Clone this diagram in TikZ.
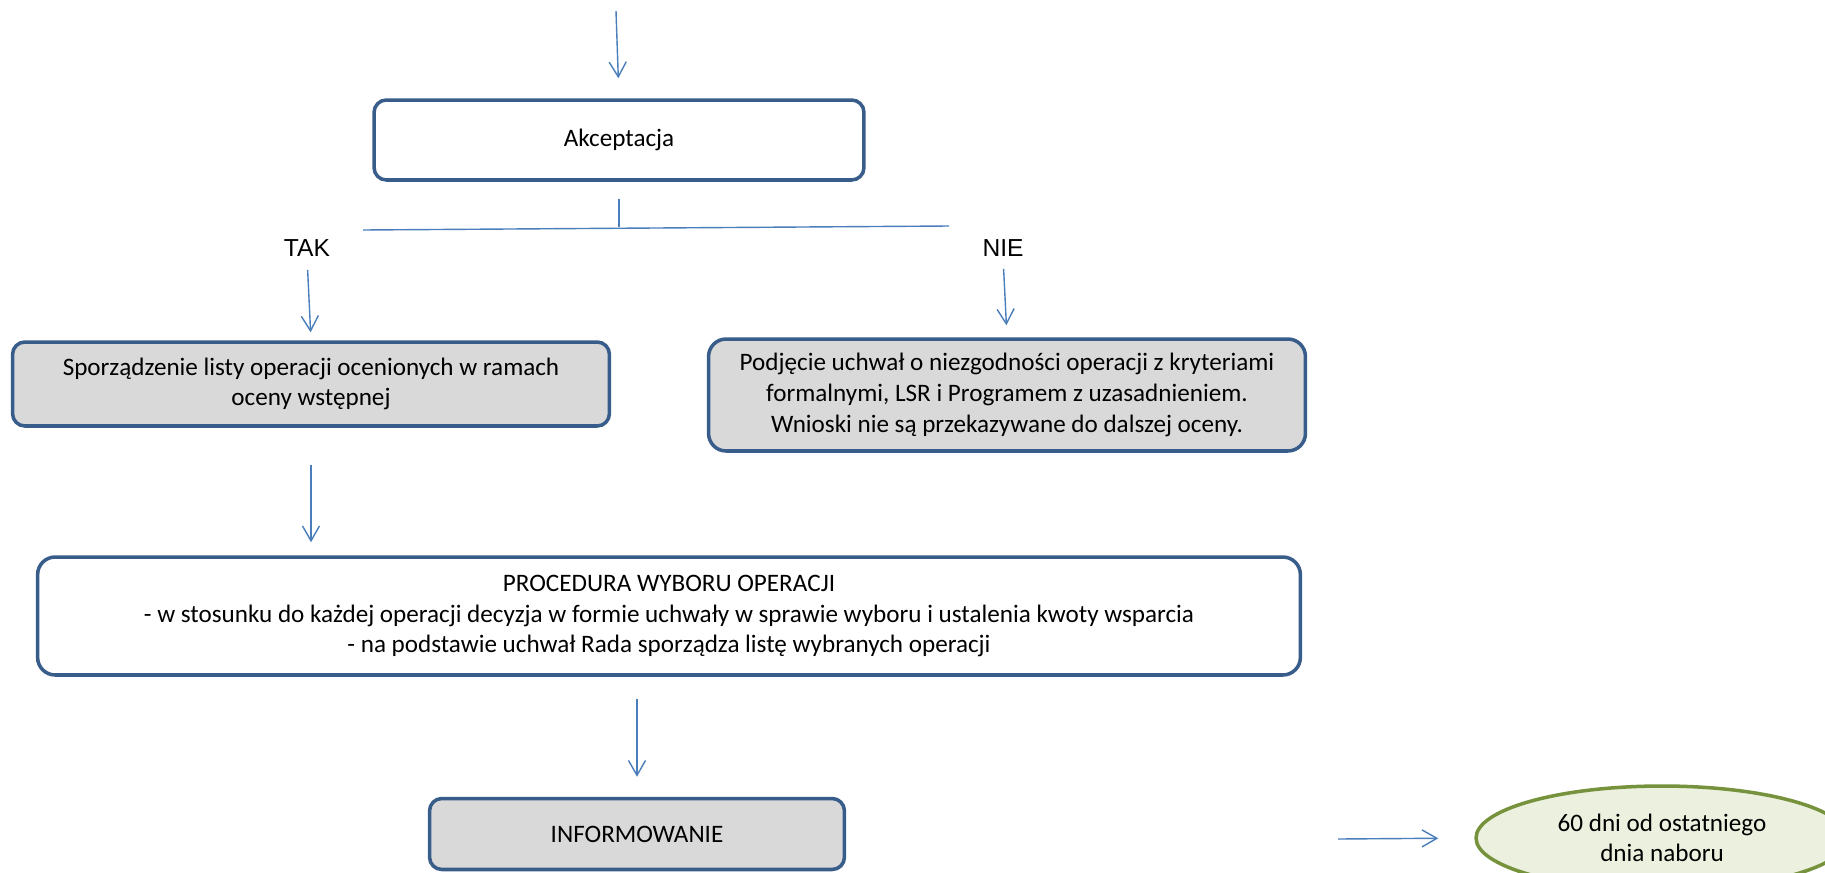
\documentclass[tikz,border=0pt]{standalone}
\usepackage{fontspec}
\setmainfont{Carlito}
\newfontfamily\arialfont{Liberation Sans}
\usepackage{tikz}
\usetikzlibrary{arrows.meta, shapes.geometric, positioning}
\definecolor{boxblue}{RGB}{56,93,138}
\definecolor{arrowblue}{RGB}{74,126,187}
\definecolor{boxgray}{RGB}{217,217,217}
\definecolor{termgreen}{RGB}{118,146,60}
\definecolor{termfill}{RGB}{235,241,222}

\begin{document}
\begin{tikzpicture}[
    x=0.02cm, y=-0.02cm,
    box/.style={rectangle, rounded corners=7pt, draw=boxblue, fill=white, line width=2pt, align=center, font=\fontsize{14.3}{17.5}\selectfont},
    graybox/.style={box, fill=boxgray},
    term/.style={ellipse, draw=termgreen, fill=termfill, line width=2pt, align=center, inner sep=0pt, font=\fontsize{14.3}{17}\selectfont},
    answer/.style={inner sep=0pt, font=\arialfont\fontsize{14}{17}\selectfont},
    link/.style={draw=arrowblue, line width=0.8pt},
    arrow/.style={link, -{Straight Barb[length=8.5pt, width=9.7pt]}}
]
    % Frame
    \useasboundingbox (0,0) rectangle (1825,872);
    \clip (0,0) rectangle (1825,872);

    % Decision
    \coordinate (start) at (616,11);
    \node[box, minimum width=9.8cm, minimum height=1.6cm] (akc) at (619,140) {Akceptacja};

    % Fork
    \coordinate (fork) at (619,227);
    \coordinate (forkL) at (363,230);
    \coordinate (forkR) at (949,226);
    \node[answer] (tak) at (307,248) {TAK};
    \node[answer] (nie) at (1003,248) {NIE};

    % Branches
    \node[graybox, minimum width=11.94cm, minimum height=1.68cm] (spor) at (311,384)
        {Sporządzenie listy operacji ocenionych w ramach\\oceny wstępnej};
    \node[graybox, rounded corners=10pt, minimum width=11.94cm, minimum height=2.24cm] (podj) at (1007,395)
        {Podjęcie uchwał o niezgodności operacji z kryteriami\\formalnymi, LSR i Programem z uzasadnieniem.\\Wnioski nie są przekazywane do dalszej oceny.};

    % Selection
    \node[box, rounded corners=10pt, minimum width=25.26cm, minimum height=2.36cm] (proc) at (669,616)
        {PROCEDURA WYBORU OPERACJI\\- w stosunku do każdej operacji decyzja w formie uchwały w sprawie wyboru i ustalenia kwoty wsparcia\\- na podstawie uchwał Rada sporządza listę wybranych operacji};

    % Information
    \node[graybox, minimum width=8.3cm, minimum height=1.42cm] (info) at (637,834) {INFORMOWANIE};
    \node[term, minimum width=7.44cm, minimum height=2.08cm] (dni) at (1662,838) {60 dni od ostatniego\\dnia naboru};
    \coordinate (due) at (1338,839);

    % Arrows
    \draw[arrow, shorten >=0.4cm] (start) -- (akc.north);
    \draw[link, shorten <=0.34cm] (akc.south) -- (fork);
    \draw[link] (forkL) -- (forkR);
    \draw[arrow, shorten <=0.26cm, shorten >=0.16cm] (tak.south) -- (spor.north);
    \draw[arrow, shorten <=0.24cm, shorten >=0.24cm] (nie.south) -- (podj.north);
    \draw[arrow, shorten <=0.74cm, shorten >=0.26cm] (spor.south) -- (spor.south |- proc.north);
    \draw[arrow, shorten <=0.44cm, shorten >=0.4cm] (info.north |- proc.south) -- (info.north);
    \draw[arrow, shorten >=0.72cm] (due) -- (dni.west);
\end{tikzpicture}
\end{document}
